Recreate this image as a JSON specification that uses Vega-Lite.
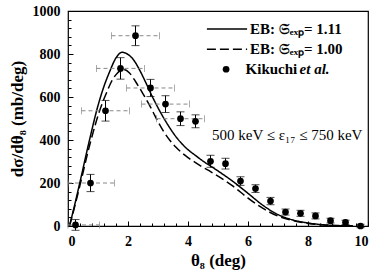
{
  "$schema": "https://vega.github.io/schema/vega-lite/v6.json",
  "width": 300,
  "height": 215,
  "autosize": {"type": "none"},
  "padding": {"left": 68, "top": 11, "right": 6, "bottom": 53},
  "config": {
    "view": {"stroke": "black", "strokeWidth": 1.2},
    "font": "Liberation Serif",
    "axis": {"grid": false, "domain": false, "tickColor": "black", "tickWidth": 1, "labelColor": "black", "titleColor": "black", "labelFont": "Liberation Serif", "titleFont": "Liberation Serif", "labelFontWeight": "bold", "titleFontWeight": "bold"}
  },
  "datasets": {
    "pts": [
      {"x": 0.25, "y": 5, "e": 25, "xl": 0, "xh": 1.05},
      {"x": 0.75, "y": 200, "e": 40, "xl": 0, "xh": 1.55},
      {"x": 1.25, "y": 536, "e": 48, "xl": 0.45, "xh": 2.05},
      {"x": 1.75, "y": 733, "e": 50, "xl": 0.95, "xh": 2.55},
      {"x": 2.25, "y": 885, "e": 46, "xl": 1.45, "xh": 3.05},
      {"x": 2.75, "y": 642, "e": 40, "xl": 1.95, "xh": 3.55},
      {"x": 3.25, "y": 567, "e": 39, "xl": 2.45, "xh": 4.05},
      {"x": 3.75, "y": 499, "e": 32, "xl": 2.95, "xh": 4.55},
      {"x": 4.25, "y": 487, "e": 30},
      {"x": 4.75, "y": 301, "e": 28},
      {"x": 5.25, "y": 290, "e": 25},
      {"x": 5.75, "y": 209, "e": 20},
      {"x": 6.25, "y": 174, "e": 18},
      {"x": 6.75, "y": 116, "e": 17},
      {"x": 7.25, "y": 65, "e": 14},
      {"x": 7.75, "y": 59, "e": 14},
      {"x": 8.25, "y": 47, "e": 14},
      {"x": 8.75, "y": 25, "e": 11},
      {"x": 9.25, "y": 17, "e": 10},
      {"x": 9.75, "y": 0, "e": 8}
    ],
    "curves": [
      {"s": "solid", "x": 0.05, "y": 0}, {"s": "solid", "x": 0.2, "y": 85}, {"s": "solid", "x": 0.4, "y": 205},
      {"s": "solid", "x": 0.7, "y": 390}, {"s": "solid", "x": 1.0, "y": 560}, {"s": "solid", "x": 1.2, "y": 650},
      {"s": "solid", "x": 1.38, "y": 715}, {"s": "solid", "x": 1.6, "y": 782}, {"s": "solid", "x": 1.8, "y": 808},
      {"s": "solid", "x": 2.0, "y": 798}, {"s": "solid", "x": 2.2, "y": 770}, {"s": "solid", "x": 2.4, "y": 722},
      {"s": "solid", "x": 2.6, "y": 665}, {"s": "solid", "x": 2.8, "y": 605}, {"s": "solid", "x": 3.0, "y": 550},
      {"s": "solid", "x": 3.2, "y": 500}, {"s": "solid", "x": 3.4, "y": 455}, {"s": "solid", "x": 3.6, "y": 415},
      {"s": "solid", "x": 3.8, "y": 382}, {"s": "solid", "x": 4.0, "y": 355}, {"s": "solid", "x": 4.25, "y": 328},
      {"s": "solid", "x": 4.5, "y": 302}, {"s": "solid", "x": 4.75, "y": 279}, {"s": "solid", "x": 5.0, "y": 256},
      {"s": "solid", "x": 5.5, "y": 207}, {"s": "solid", "x": 6.0, "y": 152}, {"s": "solid", "x": 6.5, "y": 96},
      {"s": "solid", "x": 7.0, "y": 53}, {"s": "solid", "x": 7.5, "y": 28}, {"s": "solid", "x": 8.0, "y": 14},
      {"s": "solid", "x": 8.5, "y": 6}, {"s": "solid", "x": 9.0, "y": 2}, {"s": "solid", "x": 9.5, "y": 0.5},
      {"s": "dashed", "x": 0.05, "y": 0}, {"s": "dashed", "x": 0.2, "y": 78}, {"s": "dashed", "x": 0.4, "y": 190},
      {"s": "dashed", "x": 0.73, "y": 380}, {"s": "dashed", "x": 1.1, "y": 555}, {"s": "dashed", "x": 1.3, "y": 625},
      {"s": "dashed", "x": 1.45, "y": 672}, {"s": "dashed", "x": 1.65, "y": 712}, {"s": "dashed", "x": 1.85, "y": 728},
      {"s": "dashed", "x": 2.05, "y": 712}, {"s": "dashed", "x": 2.25, "y": 672}, {"s": "dashed", "x": 2.5, "y": 615},
      {"s": "dashed", "x": 2.8, "y": 540}, {"s": "dashed", "x": 3.0, "y": 485}, {"s": "dashed", "x": 3.2, "y": 437},
      {"s": "dashed", "x": 3.4, "y": 398}, {"s": "dashed", "x": 3.6, "y": 366}, {"s": "dashed", "x": 3.8, "y": 340},
      {"s": "dashed", "x": 4.0, "y": 318}, {"s": "dashed", "x": 4.25, "y": 295}, {"s": "dashed", "x": 4.5, "y": 273},
      {"s": "dashed", "x": 4.75, "y": 253}, {"s": "dashed", "x": 5.0, "y": 232}, {"s": "dashed", "x": 5.5, "y": 185},
      {"s": "dashed", "x": 6.0, "y": 130}, {"s": "dashed", "x": 6.5, "y": 82}, {"s": "dashed", "x": 7.0, "y": 46},
      {"s": "dashed", "x": 7.5, "y": 25}, {"s": "dashed", "x": 8.0, "y": 12}, {"s": "dashed", "x": 8.5, "y": 5},
      {"s": "dashed", "x": 9.0, "y": 1.5}, {"s": "dashed", "x": 9.5, "y": 0.3}
    ],
    "legLines": [
      {"s": "solid", "x": 4.63, "x2": 5.97, "y": 916},
      {"s": "dashed", "x": 4.63, "x2": 5.97, "y": 822}
    ],
    "legText": [
      {"x": 6.07, "y": 916, "t": "EB: 𝔖ₑₓₚ= 1.11"},
      {"x": 6.07, "y": 822, "t": "EB: 𝔖ₑₓₚ= 1.00"},
      {"x": 5.92, "y": 729, "t": "Kikuchi"}
    ],
    "legItal": [{"x": 7.72, "y": 729, "t": "et al."}],
    "legDot": [{"x": 5.27, "y": 729}],
    "note": [{"x": 4.8, "y": 423, "t": "500 keV ≤ ε₁₇ ≤ 750 keV"}]
  },
  "resolve": {"axis": {"x": "independent", "y": "independent"}},
  "layer": [
    {
      "data": {"name": "curves"},
      "mark": {"type": "line", "color": "black", "strokeWidth": 1.5, "interpolate": "monotone"},
      "encoding": {
        "x": {"field": "x", "type": "quantitative", "scale": {"domain": [0, 10], "nice": false},
              "axis": {"values": [0.4, 0.8, 1.2, 1.6, 2.4, 2.8, 3.2, 3.6, 4.4, 4.8, 5.2, 5.6, 6.4, 6.8, 7.2, 7.6, 8.4, 8.8, 9.2, 9.6], "labels": false, "tickSize": -3, "title": null, "orient": "bottom"}},
        "y": {"field": "y", "type": "quantitative", "scale": {"domain": [0, 1000], "nice": false},
              "axis": {"values": [40, 80, 120, 160, 240, 280, 320, 360, 440, 480, 520, 560, 640, 680, 720, 760, 840, 880, 920, 960], "labels": false, "tickSize": -3, "title": null, "orient": "left"}},
        "strokeDash": {"field": "s", "type": "nominal", "scale": {"domain": ["solid", "dashed"], "range": [[1, 0], [9, 4]]}, "legend": null}
      }
    },
    {
      "data": {"name": "pts"},
      "mark": {"type": "rule", "color": "#888888", "strokeDash": [4, 3], "strokeWidth": 1},
      "encoding": {
        "x": {"field": "xl", "type": "quantitative", "axis": {"values": [0, 2, 4, 6, 8, 10], "format": "d", "tickSize": -5, "labelPadding": 13, "labelFontSize": 14, "title": "θ₈ (deg)", "titleFontSize": 17, "titlePadding": 4, "orient": "bottom"}},
        "x2": {"field": "xh"},
        "y": {"field": "y", "type": "quantitative", "axis": {"values": [0, 200, 400, 600, 800, 1000], "format": "d", "tickSize": -5, "labelPadding": 13, "labelFontSize": 14, "title": "dσ/dθ₈ (mb/deg)", "titleFontSize": 17, "titlePadding": 6, "orient": "left"}}
      }
    },
    {
      "data": {"name": "pts"},
      "transform": [{"filter": "isValid(datum.xl)"}, {"fold": ["xl", "xh"], "as": ["k", "xe"]}],
      "mark": {"type": "tick", "orient": "vertical", "color": "#888888", "size": 7, "thickness": 1},
      "encoding": {
        "x": {"field": "xe", "type": "quantitative", "axis": null},
        "y": {"field": "y", "type": "quantitative", "axis": null}
      }
    },
    {
      "data": {"name": "pts"},
      "transform": [{"calculate": "datum.y - datum.e", "as": "lo"}, {"calculate": "datum.y + datum.e", "as": "hi"}],
      "layer": [
        {
          "mark": {"type": "rule", "color": "black", "strokeWidth": 1},
          "encoding": {
            "x": {"field": "x", "type": "quantitative", "axis": null},
            "y": {"field": "lo", "type": "quantitative", "axis": null},
            "y2": {"field": "hi"}
          }
        },
        {
          "transform": [{"fold": ["lo", "hi"], "as": ["k", "ye"]}],
          "mark": {"type": "tick", "orient": "horizontal", "color": "black", "size": 8, "thickness": 1},
          "encoding": {
            "x": {"field": "x", "type": "quantitative", "axis": null},
            "y": {"field": "ye", "type": "quantitative", "axis": null}
          }
        }
      ]
    },
    {
      "data": {"name": "pts"},
      "mark": {"type": "point", "filled": true, "color": "black", "size": 45, "opacity": 1},
      "encoding": {
        "x": {"field": "x", "type": "quantitative", "axis": null},
        "y": {"field": "y", "type": "quantitative", "axis": null}
      }
    },
    {
      "data": {"name": "legLines"},
      "mark": {"type": "rule", "color": "black", "strokeWidth": 1.5},
      "encoding": {
        "x": {"field": "x", "type": "quantitative", "axis": null},
        "x2": {"field": "x2"},
        "y": {"field": "y", "type": "quantitative", "axis": null},
        "strokeDash": {"field": "s", "type": "nominal", "legend": null}
      }
    },
    {
      "data": {"name": "legDot"},
      "mark": {"type": "point", "filled": true, "color": "black", "size": 45, "opacity": 1},
      "encoding": {
        "x": {"field": "x", "type": "quantitative", "axis": null},
        "y": {"field": "y", "type": "quantitative", "axis": null}
      }
    },
    {
      "data": {"name": "legText"},
      "mark": {"type": "text", "align": "left", "baseline": "middle", "fontSize": 15, "fontWeight": "bold", "font": "Liberation Serif", "color": "black"},
      "encoding": {
        "x": {"field": "x", "type": "quantitative", "axis": null},
        "y": {"field": "y", "type": "quantitative", "axis": null},
        "text": {"field": "t"}
      }
    },
    {
      "data": {"name": "legItal"},
      "mark": {"type": "text", "align": "left", "baseline": "middle", "fontSize": 15, "fontWeight": "bold", "fontStyle": "italic", "font": "Liberation Serif", "color": "black"},
      "encoding": {
        "x": {"field": "x", "type": "quantitative", "axis": null},
        "y": {"field": "y", "type": "quantitative", "axis": null},
        "text": {"field": "t"}
      }
    },
    {
      "data": {"name": "note"},
      "mark": {"type": "text", "align": "left", "baseline": "middle", "fontSize": 15, "font": "Liberation Serif", "color": "black"},
      "encoding": {
        "x": {"field": "x", "type": "quantitative", "axis": null},
        "y": {"field": "y", "type": "quantitative", "axis": null},
        "text": {"field": "t"}
      }
    }
  ]
}
